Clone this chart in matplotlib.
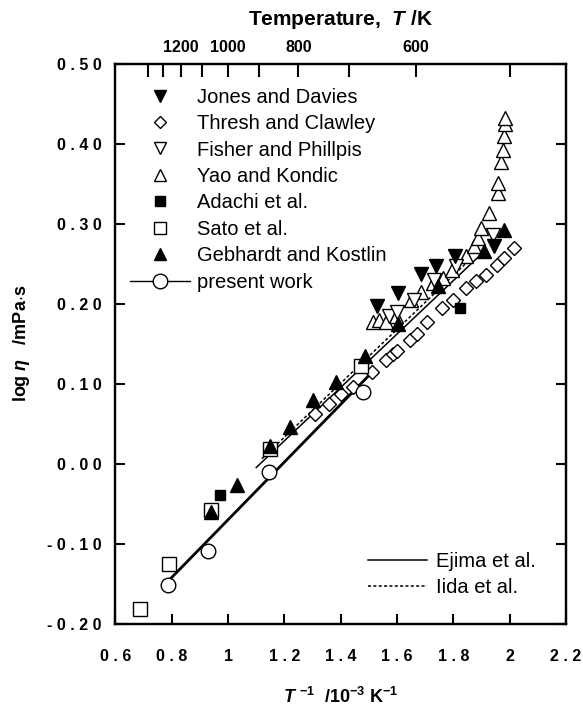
import numpy as np
import matplotlib
matplotlib.use("Agg")
import matplotlib.pyplot as plt
from matplotlib.lines import Line2D

plt.rcParams['font.family'] = ['Liberation Sans', 'DejaVu Sans']
plt.rcParams['mathtext.fontset'] = 'custom'
plt.rcParams['mathtext.rm'] = 'Liberation Sans:bold'
plt.rcParams['mathtext.it'] = 'Liberation Sans:bold:italic'
plt.rcParams['mathtext.bf'] = 'Liberation Sans:bold'

# ---------------- data (x = 1/T in 1e-3 K^-1, y = log eta / mPa s) ----------------
jones_x = [1.53, 1.605, 1.685, 1.74, 1.805, 1.945]
jones_y = [0.197, 0.213, 0.237, 0.247, 0.260, 0.272]

thresh_x = [1.31, 1.36, 1.40, 1.445, 1.51, 1.56, 1.585, 1.60, 1.645, 1.67, 1.705,
            1.76, 1.80, 1.845, 1.88, 1.915, 1.955, 1.98, 2.015]
thresh_y = [0.062, 0.075, 0.087, 0.096, 0.114, 0.129, 0.137, 0.141, 0.155, 0.162, 0.177,
            0.194, 0.205, 0.219, 0.228, 0.236, 0.248, 0.257, 0.270]

fisher_x = [1.57, 1.60, 1.66, 1.73, 1.81, 1.94]
fisher_y = [0.184, 0.189, 0.204, 0.229, 0.247, 0.286]

yao_x = [1.515, 1.535, 1.56, 1.597, 1.65, 1.685, 1.726, 1.762, 1.797, 1.844, 1.874,
         1.886, 1.898, 1.927, 1.958, 1.96, 1.968, 1.975, 1.98, 1.985, 1.985]
yao_y = [0.177, 0.179, 0.177, 0.185, 0.204, 0.214, 0.226, 0.232, 0.242, 0.259, 0.272,
         0.282, 0.294, 0.313, 0.338, 0.351, 0.377, 0.392, 0.410, 0.425, 0.432]

adachi_x = [0.97, 1.825]
adachi_y = [-0.039, 0.194]

sato_x = [0.686, 0.789, 0.94, 1.148, 1.473]
sato_y = [-0.182, -0.126, -0.058, 0.018, 0.122]

gebhardt_x = [0.94, 1.03, 1.15, 1.22, 1.30, 1.385, 1.485, 1.605, 1.745, 1.91, 1.98]
gebhardt_y = [-0.060, -0.027, 0.022, 0.046, 0.080, 0.102, 0.135, 0.174, 0.222, 0.266, 0.292]

present_x = [0.785, 0.93, 1.145, 1.48]
present_y = [-0.152, -0.109, -0.010, 0.090]
present_line_x = [0.79, 1.50]
present_line_y = [-0.146, 0.110]

ejima_x = [1.10, 1.90]
ejima_y = [-0.005, 0.262]
iida_x = [1.12, 1.85]
iida_y = [0.006, 0.252]

x_ticks = [0.6, 0.8, 1.0, 1.2, 1.4, 1.6, 1.8, 2.0, 2.2]
y_ticks = [-0.20, -0.10, 0.00, 0.10, 0.20, 0.30, 0.40, 0.50]
top_T = [1400, 1300, 1200, 1100, 1000, 900, 800, 700, 600, 500]
top_labels = ['', '', '1200', '', '1000', '', '800', '', '600', '']

# ---------------- figure ----------------
fig = plt.figure(figsize=(5.83, 7.17), dpi=100)
ax = fig.add_axes([0.198, 0.1304, 0.7728, 0.7810])

def spaced(s):
    return ' '.join(s)

ms_kw = dict(linestyle='none', markeredgewidth=1.0, color='black')

ax.plot(present_line_x, present_line_y, '-', color='black', lw=2.0, zorder=2)
ax.plot(ejima_x, ejima_y, '-', color='black', lw=1.1, zorder=2)
ax.plot(iida_x, iida_y, linestyle=(0, (2, 1.5)), color='black', lw=1.1, zorder=2)

ax.plot(thresh_x, thresh_y, marker='D', ms=7.2, mfc='white', mec='black', **ms_kw, zorder=3)
ax.plot(yao_x, yao_y, marker='^', ms=9.5, mfc='white', mec='black', **ms_kw, zorder=3)
ax.plot(fisher_x, fisher_y, marker='v', ms=9.5, mfc='white', mec='black', **ms_kw, zorder=3)
ax.plot(sato_x, sato_y, marker='s', ms=10, mfc='white', mec='black', **ms_kw, zorder=3)
ax.plot(present_x, present_y, marker='o', ms=10.5, mfc='white', mec='black', **ms_kw, zorder=4)
ax.plot(jones_x, jones_y, marker='v', ms=9.5, mfc='black', mec='black', **ms_kw, zorder=4)
ax.plot(adachi_x, adachi_y, marker='s', ms=7.5, mfc='black', mec='black', **ms_kw, zorder=4)
ax.plot(gebhardt_x, gebhardt_y, marker='^', ms=9.5, mfc='black', mec='black', **ms_kw, zorder=5)

ax.set_xlim(0.6, 2.2)
ax.set_ylim(-0.20, 0.50)
ax.set_xticks(x_ticks)
ax.set_xticklabels([spaced('%g' % v) for v in x_ticks], fontsize=11.5, fontweight='bold')
ax.set_yticks(y_ticks)
ax.set_yticklabels([spaced('%.2f' % v) for v in y_ticks], fontsize=11.5, fontweight='bold')

for sp in ax.spines.values():
    sp.set_linewidth(1.6)

ax.tick_params(axis='both', which='major', direction='in', length=7.5, width=1.5,
               right=True, top=False)
ax.tick_params(axis='x', pad=18)
ax.tick_params(axis='y', pad=10)

ax.set_xlabel(r'$T$ $^{-1}$  /10$^{-3}$ K$^{-1}$', fontsize=13, fontweight='bold', labelpad=17)
ax.set_ylabel(r'log $\eta$   /mPa$\cdot$s', fontsize=13, fontweight='bold', labelpad=11)

ax2 = ax.twiny()
ax2.set_xlim(ax.get_xlim())
ax2.set_xticks(1000.0 / np.array(top_T))
ax2.set_xticklabels(top_labels, fontsize=11.5, fontweight='bold')
ax2.tick_params(axis='x', direction='in', length=9.5, width=1.5, pad=6)
for sp in ax2.spines.values():
    sp.set_linewidth(1.6)
ax2.set_xlabel(r'Temperature,  $T$ /K', fontsize=15, fontweight='bold', labelpad=11)

# ---------------- legends ----------------
lm = 8.0
handles = [
    Line2D([], [], marker='v', ms=lm, mfc='black', **ms_kw),
    Line2D([], [], marker='D', ms=6.2, mfc='white', **ms_kw),
    Line2D([], [], marker='v', ms=lm, mfc='white', **ms_kw),
    Line2D([], [], marker='^', ms=lm, mfc='white', **ms_kw),
    Line2D([], [], marker='s', ms=7.0, mfc='black', **ms_kw),
    Line2D([], [], marker='s', ms=8.5, mfc='white', **ms_kw),
    Line2D([], [], marker='^', ms=lm, mfc='black', **ms_kw),
    Line2D([], [], marker='o', ms=10.5, mfc='white', color='black', lw=1.0, markeredgewidth=1.0),
]
labels = ['Jones and Davies', 'Thresh and Clawley', 'Fisher and Phillpis', 'Yao and Kondic',
          'Adachi et al.', 'Sato et al.', 'Gebhardt and Kostlin', 'present work']
leg1 = ax.legend(handles, labels, loc='upper left', bbox_to_anchor=(0.032, 0.957),
                 frameon=False, fontsize=14.5, handlelength=2.97, handletextpad=0.35,
                 labelspacing=0.37, borderpad=0, borderaxespad=0, numpoints=1)
ax.add_artist(leg1)

handles2 = [Line2D([], [], color='black', lw=1.1),
            Line2D([], [], color='black', lw=1.1, linestyle=(0, (2, 1.5)))]
leg2 = ax.legend(handles2, ['Ejima et al.', 'Iida et al.'], loc='upper left',
                 bbox_to_anchor=(0.56, 0.128), frameon=False, fontsize=14.5,
                 handlelength=2.93, handletextpad=0.45, labelspacing=0.37,
                 borderpad=0, borderaxespad=0)

fig.savefig('out.png', dpi=100)
